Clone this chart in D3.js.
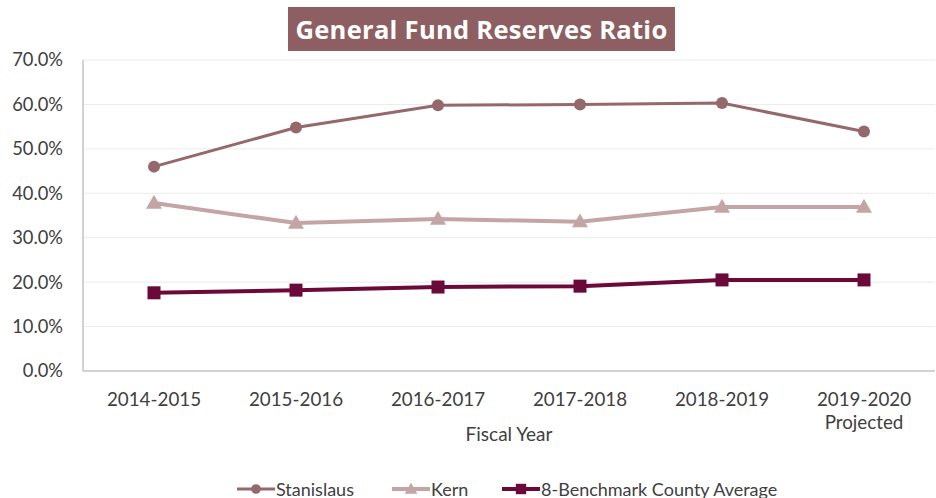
<!DOCTYPE html>
<html><head><meta charset="utf-8">
<script src="https://cdn.jsdelivr.net/npm/d3@7"></script>
<style>body{margin:0;background:#fff;}svg{display:block;font-family:Lato,"Open Sans",sans-serif;}</style>
</head><body>
<svg id="c" width="936" height="498"></svg>
<script>
const categories = ["2014-2015","2015-2016","2016-2017","2017-2018","2018-2019","2019-2020\nProjected"];
const stanislaus = [46.0, 54.8, 59.8, 60.0, 60.3, 53.9];
const kern = [37.8, 33.3, 34.2, 33.6, 36.9, 36.9];
const benchmark = [17.6, 18.2, 18.9, 19.1, 20.5, 20.5];
const yTicks = [0,10,20,30,40,50,60,70];
const seriesNames = ["Stanislaus","Kern","8-Benchmark County Average"];

const svg = d3.select("#c");
const L = 83, R = 935, T = 60, B = 371;
const x = d3.scaleBand().domain(categories).range([L, R]);
const y = d3.scaleLinear().domain([0,70]).range([B, T]);
const FONT = "Lato,'Open Sans',sans-serif";

// gridlines
svg.append("g").selectAll("line").data(yTicks.filter(d=>d>0)).join("line")
  .attr("x1",L).attr("x2",R).attr("y1",d=>y(d)).attr("y2",d=>y(d))
  .attr("stroke","#ebebeb").attr("stroke-width",1);

// axes lines
svg.append("line").attr("x1",L).attr("x2",L).attr("y1",T).attr("y2",B).attr("stroke","#a6a6a6");
svg.append("line").attr("x1",L).attr("x2",R).attr("y1",B).attr("y2",B).attr("stroke","#a6a6a6");

// y labels
const ya = d3.axisLeft(y).tickValues(yTicks).tickFormat(d=>d.toFixed(1)+"%").tickSize(0).tickPadding(20);
const yg = svg.append("g").attr("transform",`translate(${L},0)`).call(ya);
yg.select(".domain").remove();
yg.selectAll("text").attr("font-size",18.3).attr("fill","#404040").attr("font-family",FONT);

// x labels
const xa = d3.axisBottom(x).tickSize(0).tickPadding(0).tickFormat("");
const xg = svg.append("g").attr("transform",`translate(0,${B})`).call(xa);
xg.select(".domain").remove();
xg.selectAll(".tick").each(function(d){
  const lines = d.split("\n");
  const t = d3.select(this).append("text").attr("fill","#404040").attr("font-size",18.8)
    .attr("text-anchor","middle").attr("font-family",FONT);
  lines.forEach((ln,i)=>t.append("tspan").attr("x",0).attr("y",35+i*23).text(ln));
});

svg.append("text").attr("x",509).attr("y",441).attr("text-anchor","middle")
  .attr("font-size",19).attr("fill","#404040").attr("font-family",FONT).text("Fiscal Year");

// title
const tg = svg.append("g");
tg.append("rect").attr("x",288).attr("y",7).attr("width",387).attr("height",44).attr("fill","#8e5f62");
tg.append("text").attr("x",481.5).attr("y",38.5).attr("text-anchor","middle").attr("fill","#fff")
  .attr("font-family","'Open Sans',Lato,sans-serif").attr("letter-spacing",0.3)
  .attr("font-size",25.5).attr("font-weight","bold").text("General Fund Reserves Ratio");

const cx = d => x(d) + x.bandwidth()/2;
const colors = ["#95686b","#c4a5a6","#6b0a38"];
const widths = [3,4,4];
const data = [stanislaus, kern, benchmark];
const line = d3.line().x((v,i)=>cx(categories[i])).y(v=>y(v));

function marker(g, type, px, py, col, s){
  if(type===0) g.append("circle").attr("cx",px).attr("cy",py).attr("r",6*s).attr("fill",col);
  else if(type===1) g.append("path").attr("d",d3.symbol(d3.symbolTriangle, 110*s*s)()).attr("transform",`translate(${px},${py+1})`).attr("fill",col);
  else g.append("rect").attr("x",px-6.5*s).attr("y",py-6.5*s).attr("width",13*s).attr("height",13*s).attr("fill",col);
}

data.forEach((vals,k)=>{
  const g = svg.append("g");
  g.append("path").datum(vals).attr("d",line).attr("fill","none").attr("stroke",colors[k]).attr("stroke-width",widths[k]);
  vals.forEach((v,i)=>marker(g,k,cx(categories[i]),y(v),colors[k],1));
});

// legend
const legX = [237, 392, 502];
const lg = svg.append("g");
seriesNames.forEach((n,k)=>{
  const lx = legX[k], ly = 489;
  lg.append("line").attr("x1",lx).attr("x2",lx+38).attr("y1",ly).attr("y2",ly).attr("stroke",colors[k]).attr("stroke-width",widths[k]);
  marker(lg,k,lx+19,ly,colors[k],0.8);
  lg.append("text").attr("x",lx+39).attr("y",ly+6.5).attr("font-size",18).attr("fill","#404040").attr("font-family",FONT).text(n);
});
</script>
</body></html>
